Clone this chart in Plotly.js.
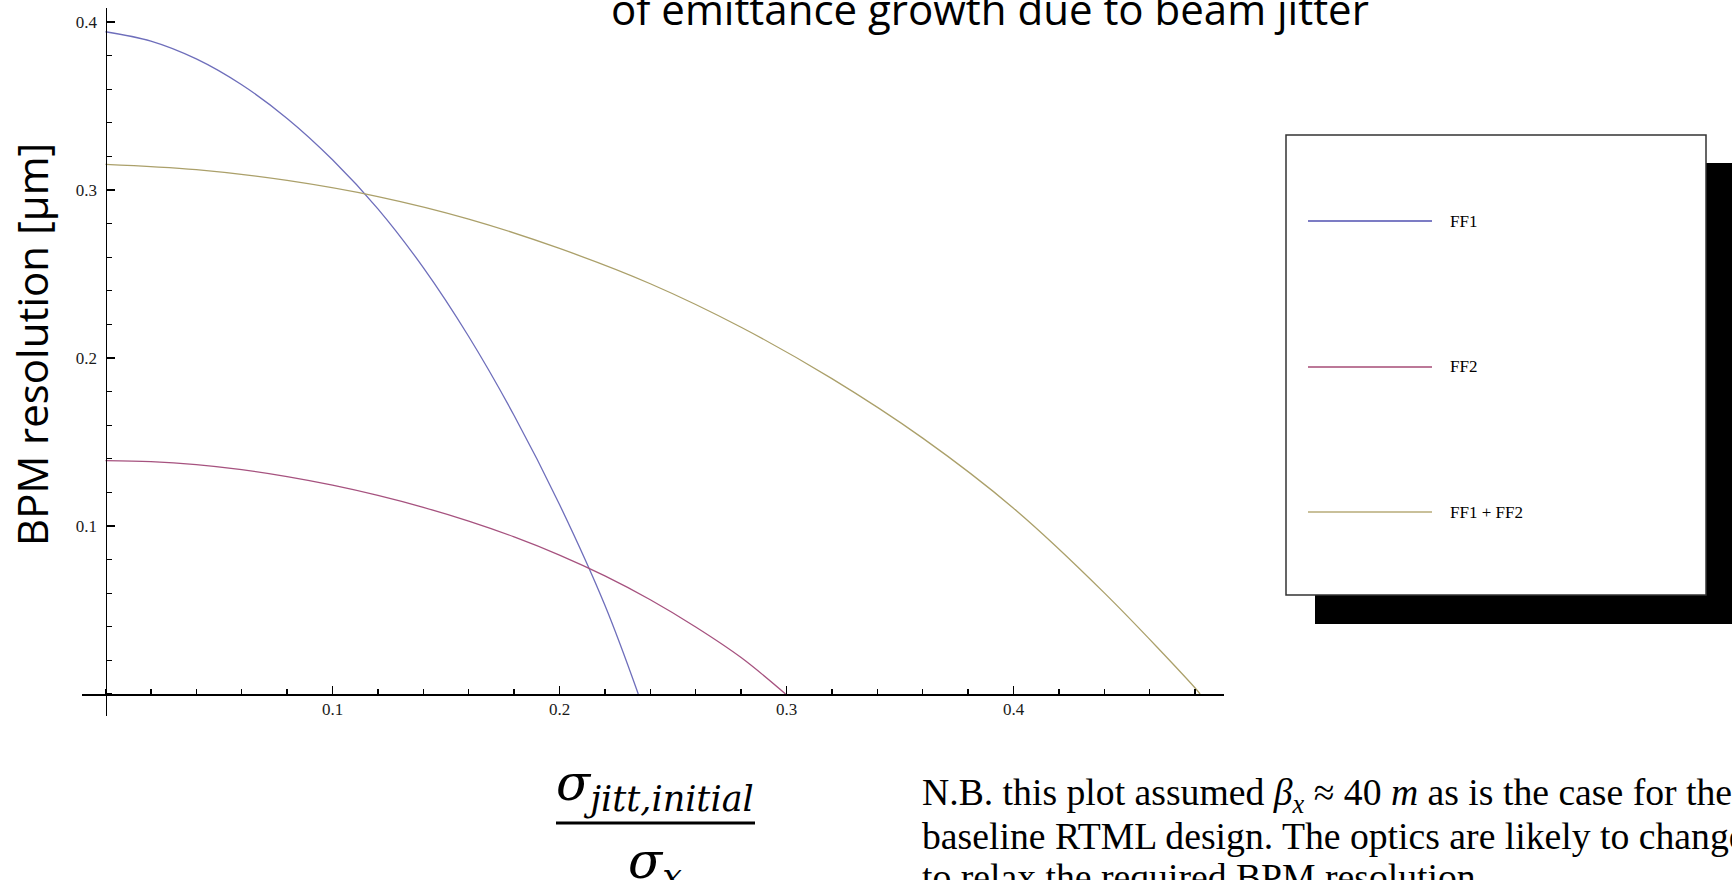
<!DOCTYPE html>
<html><head><meta charset="utf-8">
<script src="https://cdn.plot.ly/plotly-3.0.1.min.js"></script>
<style>html,body{margin:0;padding:0;background:#fff;overflow:hidden}#chart{width:1732px;height:880px}</style>
</head><body><div id="chart"></div>
<script>
// ---- data ----
const seriesNames = ['FF1', 'FF2', 'FF1 + FF2'];
const seriesColors = ['#6e6ebb', '#a6527f', '#aba06a'];
const legendColors = ['#7c7cc4', '#bc7898', '#c9c09a'];

const ff1X = [0, 0.02, 0.04, 0.06, 0.08, 0.10, 0.12, 0.14, 0.16, 0.18, 0.20, 0.22, 0.2347];
const ff1Y = [0.3942, 0.3886, 0.378, 0.3626, 0.3426, 0.318, 0.2888, 0.2538, 0.2128, 0.1658, 0.1128, 0.0528, 0];

const ff2X = [0, 0.02, 0.04, 0.06, 0.08, 0.10, 0.12, 0.14, 0.16, 0.18, 0.20, 0.22, 0.24, 0.26, 0.28, 0.2996];
const ff2Y = [0.1389, 0.1383, 0.1365, 0.1335, 0.1294, 0.1243, 0.1182, 0.1111, 0.1029, 0.0935, 0.0827, 0.0703, 0.0561, 0.0399, 0.0217, 0];

const sumX = [0, 0.04, 0.08, 0.12, 0.16, 0.20, 0.24, 0.28, 0.32, 0.36, 0.40, 0.44, 0.48, 0.4822];
const sumY = [0.3153, 0.3121, 0.3057, 0.2961, 0.2827, 0.2652, 0.2442, 0.2183, 0.1877, 0.1523, 0.1106, 0.0602, 0.0036, 0];

const xTickVals = [0.1, 0.2, 0.3, 0.4];
const xTickText = ['0.1', '0.2', '0.3', '0.4'];
const yTickVals = [0.1, 0.2, 0.3, 0.4];
const yTickText = ['0.1', '0.2', '0.3', '0.4'];

const titleText = 'of emittance growth due to beam jitter';
const yTitleText = 'BPM resolution [µm]';
const xTitleNum = '<i>σ<sub>jitt,initial</sub></i>';
const xTitleDen = '<i>σ<sub>x</sub></i>';
const noteLines = [
  'N.B. this plot assumed <i>β<sub>x</sub></i> ≈ 40 <i>m</i> as is the case for the',
  'baseline RTML design. The optics are likely to change',
  'to relax the required BPM resolution.'
];

// ---- geometry (pixels in the 1732x880 figure) ----
const W = 1732, H = 880;
const px = v => v / W, py = v => 1 - v / H;
const AX_L = 82, AX_R = 1224, AX_T = 8, AX_B = 716;
const OX = 105.5, OY = 694, KX = 2270, KY = 1680;
const LEG_Y = [221, 367, 512];

const xs = [ff1X, ff2X, sumX], ys = [ff1Y, ff2Y, sumY];
const traces = seriesNames.map((n, i) => ({
  type: 'scatter', mode: 'lines', name: n, x: xs[i], y: ys[i],
  line: {color: seriesColors[i], width: 1.3, shape: 'spline', smoothing: 1},
  hoverinfo: 'skip', showlegend: false
}));

const axisCommon = {
  showline: true, linecolor: '#000', linewidth: 1.6,
  ticks: 'inside', ticklen: 8, tickwidth: 1.5, tickcolor: '#000',
  showgrid: false, zeroline: false, anchor: 'free',
  tickfont: {family: 'Liberation Serif', size: 17, color: '#1a1a1a'},
  minor: {tickmode: 'linear', tick0: 0, dtick: 0.02, ticks: 'inside', ticklen: 5, tickwidth: 1.3, tickcolor: '#000', showgrid: false},
  fixedrange: true
};

const layout = {
  width: W, height: H, margin: {l: 0, r: 0, t: 0, b: 0},
  paper_bgcolor: '#fff', plot_bgcolor: '#fff', showlegend: false,
  xaxis: Object.assign({}, axisCommon, {
    domain: [px(AX_L), px(AX_R)], range: [(AX_L - OX) / KX, (AX_R - OX) / KX],
    position: py(OY), tickmode: 'array', tickvals: xTickVals, ticktext: xTickText,
    ticklabelstandoff: -1
  }),
  yaxis: Object.assign({}, axisCommon, {
    domain: [py(AX_B), py(AX_T)], range: [(OY - AX_B) / KY, (OY - AX_T) / KY],
    position: px(OX), tickmode: 'array', tickvals: yTickVals, ticktext: yTickText,
    ticklabelstandoff: 5
  }),
  shapes: [
    // legend shadow and box
    {type: 'rect', xref: 'paper', yref: 'paper', x0: px(1315), x1: px(1760), y0: py(624), y1: py(163),
     fillcolor: '#000', line: {width: 0}, layer: 'above'},
    {type: 'rect', xref: 'paper', yref: 'paper', x0: px(1286), x1: px(1706), y0: py(595), y1: py(135),
     fillcolor: '#fff', line: {color: '#333', width: 1.5}, layer: 'above'},
    // legend samples
    ...LEG_Y.map((yy, i) => ({type: 'line', xref: 'paper', yref: 'paper',
      x0: px(1308), x1: px(1432), y0: py(yy), y1: py(yy), line: {color: legendColors[i], width: 2}, layer: 'above'})),
    // fraction bar of x title
    {type: 'line', xref: 'paper', yref: 'paper', x0: px(556), x1: px(755), y0: py(823), y1: py(823),
     line: {color: '#000', width: 3}}
  ],
  annotations: [
    {text: titleText, xref: 'paper', yref: 'paper', x: px(990), y: py(39), xanchor: 'center', yanchor: 'bottom',
     showarrow: false, font: {family: 'Open Sans', size: 42, color: '#000'}},
    {text: yTitleText, xref: 'paper', yref: 'paper', x: px(31), y: py(345), xanchor: 'center', yanchor: 'middle',
     textangle: -90, showarrow: false, font: {family: 'Open Sans', size: 42, color: '#000'}},
    {text: xTitleNum, xref: 'paper', yref: 'paper', x: px(655), y: py(821), xanchor: 'center', yanchor: 'bottom',
     showarrow: false, font: {family: 'DejaVu Serif', size: 50, color: '#000'}},
    {text: xTitleDen, xref: 'paper', yref: 'paper', x: px(655), y: py(830), xanchor: 'center', yanchor: 'top',
     showarrow: false, font: {family: 'DejaVu Serif', size: 50, color: '#000'}},
    ...noteLines.map((t, i) => ({text: t, xref: 'paper', yref: 'paper', x: px(920), y: py(795 + 41 * i),
      xanchor: 'left', yanchor: 'middle', showarrow: false, font: {family: 'Liberation Serif', size: 37.7, color: '#000'}})),
    ...seriesNames.map((n, i) => ({text: n, xref: 'paper', yref: 'paper', x: px(1448), y: py(LEG_Y[i]),
      xanchor: 'left', yanchor: 'middle', showarrow: false, font: {family: 'Liberation Serif', size: 17, color: '#000'}}))
  ]
};

Plotly.newPlot('chart', traces, layout, {staticPlot: true, displayModeBar: false});
</script></body></html>
